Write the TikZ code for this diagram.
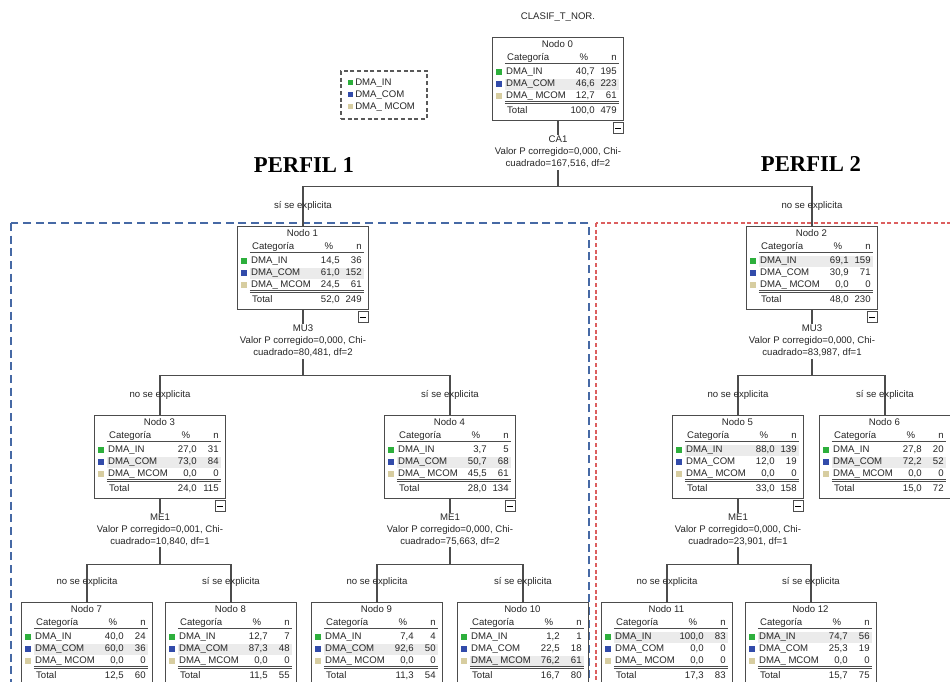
\documentclass[tikz,border=0pt]{standalone}
\usepackage{fontspec}
\setmainfont{Liberation Sans}
\newfontfamily\perfilfont{Liberation Serif}
\usetikzlibrary{calc}

\definecolor{cin}{RGB}{45,175,60}
\definecolor{ccom}{RGB}{50,75,170}
\definecolor{cmcom}{RGB}{215,205,160}
\definecolor{azulperfil}{RGB}{70,105,165}
\definecolor{rojoperfil}{RGB}{220,95,95}

% one row of a node table: y, colour, label, %, n
\newcommand{\fila}[5]{%
  \fill[#2] (4,{#1-3.5}) rectangle (10,{#1+2.5});
  \node[celda, anchor=west] at (14,#1) {#3};
  \node[celda, anchor=east] at (103,#1) {#4};
  \node[celda, anchor=east] at (125,#1) {#5};}
\newcommand{\filas}[6]{%
  \fila{35}{cin}{DMA\_IN}{#1}{#2}
  \fila{47}{ccom}{DMA\_COM}{#3}{#4}
  \fila{59}{cmcom}{DMA\_ MCOM}{#5}{#6}}
\newcommand{\totales}[2]{%
  \node[celda, anchor=west] at (15,74) {Total};
  \node[celda, anchor=east] at (103,74) {#1};
  \node[celda, anchor=east] at (125,74) {#2};}
% a tree node: name, x, top, number, rows, total, highlighted row
\newcommand{\nodo}[7]{%
  \node[caja] (#1) at (#2,#3) {};
  \begin{scope}[shift={(#1.north west)}]
    \fill[resalte] (13,{23+12*#7-5.5}) rectangle (127,{23+12*#7+5.5});
    \node[celda] at (65.5,8) {Nodo #4};
    \node[celda, anchor=west] at (15,21) {Categoría};
    \node[celda] at (92,21) {\%};
    \node[celda, anchor=east] at (125,21) {n};
    \draw[regla] (13,26) -- (127,26);
    \filas#5
    \draw[regla] (13,64) -- (127,64) (13,66) -- (127,66);
    \totales#6
  \end{scope}}
% a split: parent, left child, right child, left label, right label
\newcommand{\division}[5]{%
  \coordinate (#1h) at ($(#1.south)+(0,65)$);
  \draw[rama] (#1.south) -- (#1h);
  \draw[rama] (#2.north) |- (#1h) -| (#3.north);
  \node[etiqueta] (#2e) at ($(#2.north)+(0,-20)$) {#4};
  \node[etiqueta] (#3e) at ($(#3.north)+(0,-20)$) {#5};}
% split text under a node: parent, variable, p value, chi value
\newcommand{\corte}[4]{%
  \node[corte] (#1v) at ($(#1.south)+(0,31)$) {#2\\Valor P corregido=#3, Chi-\\cuadrado=#4};
  \node[menos] (#1m) at ($(#1.south east)+(0,1)$) {\rule{4.5pt}{0.6pt}};}

\begin{document}
\begin{tikzpicture}[x=0.75pt, y=-0.75pt,
  caja/.style={draw=black!70, line width=0.9pt, fill=white, minimum width=98.25pt,
    minimum height=62.25pt, inner sep=0pt, anchor=north},
  celda/.style={inner sep=0pt, text height=5.3pt, text depth=1.6pt,
    font=\fontsize{7.2}{9}\selectfont, text=black!85},
  regla/.style={black!70, line width=0.6pt},
  resalte/.style={fill=black!8},
  rama/.style={black!70, line width=0.9pt},
  corte/.style={align=center, fill=white, inner sep=1pt,
    font=\fontsize{7.2}{9}\selectfont, text=black!85},
  etiqueta/.style={inner sep=0pt, font=\fontsize{7.2}{9}\selectfont, text=black!85},
  menos/.style={draw=black!70, line width=0.7pt, fill=white, minimum size=8pt,
    inner sep=0pt, anchor=north east},
  perfil/.style={font=\perfilfont\bfseries\fontsize{17}{20}\selectfont},
  zonaazul/.style={draw=azulperfil, line width=1pt, dash pattern=on 6pt off 3.5pt},
  zonaroja/.style={draw=rojoperfil, line width=0.9pt, dash pattern=on 3pt off 2pt},
  leyenda/.style={draw=black!65, line width=0.8pt, dash pattern=on 3pt off 2pt,
    minimum width=64.5pt, minimum height=36pt, inner sep=0pt}
]
\useasboundingbox (0,0) rectangle (950,682);
\clip (0,0) rectangle (950,682);

% === Profile zones ===
\draw[zonaazul] (11,223) rectangle (589,700);
\draw[zonaroja] (596,223) rectangle (970,700);
\node[perfil] (p1) at (304,165) {PERFIL 1};
\node[perfil] (p2) at (811,164) {PERFIL 2};

% === Title and legend ===
\node[etiqueta] (titulo) at (558,17) {CLASIF\_T\_NOR.};
\node[leyenda] (ley) at (384,95) {};
\fill[cin] (348,80) rectangle (353,85);
\fill[ccom] (348,92) rectangle (353,97);
\fill[cmcom] (348,104) rectangle (353,109);
\node[etiqueta, anchor=west] (l1) at (355,83) {DMA\_IN};
\node[etiqueta, anchor=west] (l2) at (355,95) {DMA\_COM};
\node[etiqueta, anchor=west] (l3) at (355,107) {DMA\_ MCOM};

% === Level 0 ===
\nodo{N0}{558}{37}{0}{{40,7}{195}{46,6}{223}{12,7}{61}}{{100,0}{479}}{2}

% === Level 1 ===
\nodo{N1}{303}{226}{1}{{14,5}{36}{61,0}{152}{24,5}{61}}{{52,0}{249}}{2}
\nodo{N2}{812}{226}{2}{{69,1}{159}{30,9}{71}{0,0}{0}}{{48,0}{230}}{1}

% === Level 2 ===
\nodo{N3}{160}{415}{3}{{27,0}{31}{73,0}{84}{0,0}{0}}{{24,0}{115}}{2}
\nodo{N4}{450}{415}{4}{{3,7}{5}{50,7}{68}{45,5}{61}}{{28,0}{134}}{2}
\nodo{N5}{738}{415}{5}{{88,0}{139}{12,0}{19}{0,0}{0}}{{33,0}{158}}{1}
\nodo{N6}{885}{415}{6}{{27,8}{20}{72,2}{52}{0,0}{0}}{{15,0}{72}}{2}

% === Level 3 ===
\nodo{N7}{87}{602}{7}{{40,0}{24}{60,0}{36}{0,0}{0}}{{12,5}{60}}{2}
\nodo{N8}{231}{602}{8}{{12,7}{7}{87,3}{48}{0,0}{0}}{{11,5}{55}}{2}
\nodo{N9}{377}{602}{9}{{7,4}{4}{92,6}{50}{0,0}{0}}{{11,3}{54}}{2}
\nodo{N10}{523}{602}{10}{{1,2}{1}{22,5}{18}{76,2}{61}}{{16,7}{80}}{3}
\nodo{N11}{667}{602}{11}{{100,0}{83}{0,0}{0}{0,0}{0}}{{17,3}{83}}{1}
\nodo{N12}{811}{602}{12}{{74,7}{56}{25,3}{19}{0,0}{0}}{{15,7}{75}}{1}

% === Splits ===
\division{N0}{N1}{N2}{sí se explicita}{no se explicita}
\division{N1}{N3}{N4}{no se explicita}{sí se explicita}
\division{N2}{N5}{N6}{no se explicita}{sí se explicita}
\division{N3}{N7}{N8}{no se explicita}{sí se explicita}
\division{N4}{N9}{N10}{no se explicita}{sí se explicita}
\division{N5}{N11}{N12}{no se explicita}{sí se explicita}

\corte{N0}{CA1}{0,000}{167,516, df=2}
\corte{N1}{MU3}{0,000}{80,481, df=2}
\corte{N2}{MU3}{0,000}{83,987, df=1}
\corte{N3}{ME1}{0,001}{10,840, df=1}
\corte{N4}{ME1}{0,000}{75,663, df=2}
\corte{N5}{ME1}{0,000}{23,901, df=1}
\end{tikzpicture}
\end{document}
